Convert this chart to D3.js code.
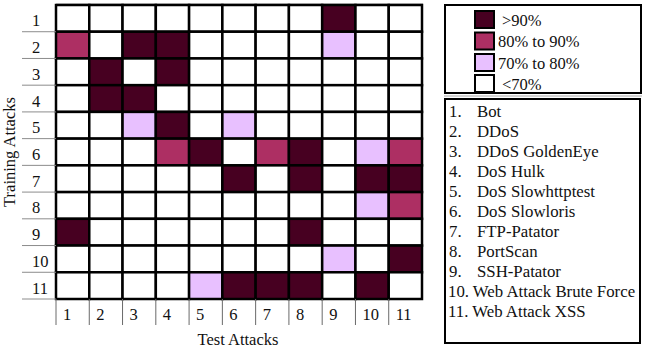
<!DOCTYPE html>
<html>
<head>
<meta charset="utf-8">
<script src="https://cdn.jsdelivr.net/npm/d3@7"></script>
<style>
  html, body { margin: 0; padding: 0; background: #fff; }
  svg { display: block; font-family: "Liberation Serif", "Times New Roman", serif; }
</style>
</head>
<body>
<svg id="chart" width="646" height="352"></svg>
<script>
// ---- Data ----
const trainLabels = ["1","2","3","4","5","6","7","8","9","10","11"];
const testLabels  = ["1","2","3","4","5","6","7","8","9","10","11"];
const levels = [">90%", "80% to 90%", "70% to 80%", "<70%"];
// Accuracy level per cell: 0 = >90%, 1 = 80–90%, 2 = 70–80%, 3 = <70%
const row1  = [3,3,3,3,3,3,3,3,0,3,3];
const row2  = [1,3,0,0,3,3,3,3,2,3,3];
const row3  = [3,0,3,0,3,3,3,3,3,3,3];
const row4  = [3,0,0,3,3,3,3,3,3,3,3];
const row5  = [3,3,2,0,3,2,3,3,3,3,3];
const row6  = [3,3,3,1,0,3,1,0,3,2,1];
const row7  = [3,3,3,3,3,0,3,0,3,0,0];
const row8  = [3,3,3,3,3,3,3,3,3,2,1];
const row9  = [0,3,3,3,3,3,3,0,3,3,3];
const row10 = [3,3,3,3,3,3,3,3,2,3,0];
const row11 = [3,3,3,3,2,0,0,0,3,0,3];
const attackNames = ["Bot","DDoS","DDoS GoldenEye","DoS Hulk","DoS Slowhttptest",
  "DoS Slowloris","FTP-Patator","PortScan","SSH-Patator","Web Attack Brute Force","Web Attack XSS"];

const matrix = [row1,row2,row3,row4,row5,row6,row7,row8,row9,row10,row11];

// ---- Layout ----
const svg = d3.select("#chart");
const gx0 = 56, gx1 = 422, gy0 = 5, gy1 = 299;
const x = d3.scaleBand().domain(testLabels).range([gx0, gx1]).padding(0);
const y = d3.scaleBand().domain(trainLabels).range([gy0, gy1]).padding(0);
const color = d3.scaleOrdinal().domain([0,1,2,3]).range(["#470021","#AD2F63","#E8C0FF","#FFFFFF"]);

const cells = [];
matrix.forEach((r, i) => r.forEach((v, j) => cells.push({row: trainLabels[i], col: testLabels[j], v})));

// faint top rule
svg.append("line").attr("x1", gx0).attr("x2", gx1 + 1).attr("y1", 3.5).attr("y2", 3.5)
  .attr("stroke", "#d0d0d0").attr("stroke-width", 1);

svg.append("g").selectAll("rect").data(cells).join("rect")
  .attr("x", d => x(d.col)).attr("y", d => y(d.row))
  .attr("width", x.bandwidth()).attr("height", y.bandwidth())
  .attr("fill", d => color(d.v))
  .attr("stroke", "#000").attr("stroke-width", 2.5);

// Row label separators (gray)
const rowBounds = trainLabels.slice(1).map(l => y(l)).concat([gy1]);
svg.append("g").selectAll("line").data(rowBounds).join("line")
  .attr("x1", 22).attr("x2", gx0).attr("y1", d => d).attr("y2", d => d)
  .attr("stroke", "#8c8c8c").attr("stroke-width", 1);

// Row labels
svg.append("g").selectAll("text").data(trainLabels).join("text")
  .attr("x", 32).attr("y", d => y(d) + y.bandwidth()/2 + 8)
  .attr("font-size", 16.5).attr("fill", "#111").text(d => d);

// Column label separators
svg.append("g").selectAll("line").data(testLabels).join("line")
  .attr("x1", d => x(d)).attr("x2", d => x(d)).attr("y1", gy1).attr("y2", 325)
  .attr("stroke", "#6a6a6a").attr("stroke-width", 1);

svg.append("g").selectAll("text").data(testLabels).join("text")
  .attr("x", d => x(d) + 7).attr("y", 320)
  .attr("font-size", 16.5).attr("fill", "#111").text(d => d);

// Axis titles
svg.append("text").attr("x", 238).attr("y", 345)
  .attr("text-anchor", "middle").attr("font-size", 16.5).attr("fill", "#111").text("Test Attacks");
svg.append("text").attr("transform", `translate(14.5,${(gy0+gy1)/2}) rotate(-90)`)
  .attr("text-anchor", "middle").attr("font-size", 16.5).attr("fill", "#111").text("Training Attacks");

// ---- Legend box 1 ----
svg.append("rect").attr("x", 445).attr("y", 5).attr("width", 196).attr("height", 88)
  .attr("fill", "#fff").attr("stroke", "#000").attr("stroke-width", 2);
svg.append("line").attr("x1", 444).attr("x2", 642).attr("y1", 96).attr("y2", 96)
  .attr("stroke", "#aaa").attr("stroke-width", 1);
const swY = [11, 32.5, 54, 75];
const legG = svg.append("g");
legG.selectAll("rect").data(levels).join("rect")
  .attr("x", 475).attr("y", (d,i) => swY[i]).attr("width", 19).attr("height", 17)
  .attr("fill", (d,i) => color(i)).attr("stroke", "#000").attr("stroke-width", 2);
legG.selectAll("text").data(levels).join("text")
  .attr("x", (d,i) => (i === 0 || i === 3) ? 502 : 498)
  .attr("y", (d,i) => swY[i] + 14.5)
  .attr("font-size", 16.5).attr("fill", "#111").text(d => d);

// ---- Legend box 2 ----
svg.append("rect").attr("x", 445).attr("y", 99).attr("width", 195).attr("height", 244)
  .attr("fill", "#fff").attr("stroke", "#000").attr("stroke-width", 2);
const listG = svg.append("g");
attackNames.forEach((name, i) => {
  const yy = 116.5 + i * 20;
  if (i < 9) {
    listG.append("text").attr("x", 449).attr("y", yy).attr("font-size", 16.8).attr("fill", "#111").text((i+1) + ".");
    listG.append("text").attr("x", 477).attr("y", yy).attr("font-size", 16.8).attr("fill", "#111").text(name);
  } else {
    listG.append("text").attr("x", 448).attr("y", yy).attr("font-size", 16.8).attr("fill", "#111")
      .text((i+1) + ". " + name);
  }
});
</script>
</body>
</html>
